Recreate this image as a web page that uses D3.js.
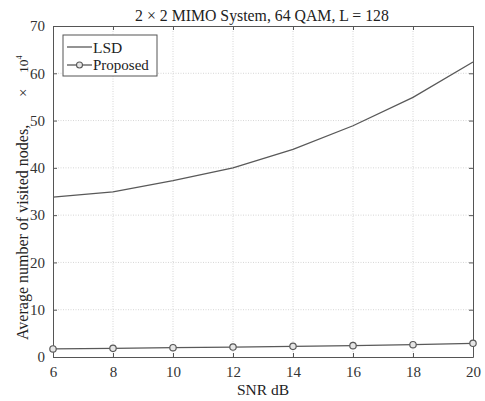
<!DOCTYPE html>
<html>
<head>
<meta charset="utf-8">
<script src="https://cdn.jsdelivr.net/npm/d3@7"></script>
<style>
  html, body { margin: 0; padding: 0; background: #fff; }
  svg { display: block; font-family: "Liberation Serif", "Times New Roman", serif; }
</style>
</head>
<body>
<svg id="chart" width="485" height="401"></svg>
<script>
// SNR points (dB)
const snr = [6, 8, 10, 12, 14, 16, 18, 20];
// Average visited nodes (x 10^4)
const lsd = [33.8, 34.9, 37.3, 40.0, 43.9, 48.9, 54.9, 62.4];
const proposed = [1.7, 1.83, 1.97, 2.1, 2.25, 2.4, 2.6, 2.9];
const xTicks = [6, 8, 10, 12, 14, 16, 18, 20];
const yTicks = [0, 10, 20, 30, 40, 50, 60, 70];

const svg = d3.select("#chart");
const m = { left: 53, right: 473, top: 26, bottom: 357 };
const x = d3.scaleLinear().domain([6, 20]).range([m.left, m.right]);
const y = d3.scaleLinear().domain([0, 70]).range([m.bottom, m.top]);
const axisCol = "#555";
const lineCol = "#595959";
const serif = "Liberation Serif";

// grid
const grid = svg.append("g").attr("stroke", "#d6d6d6").attr("stroke-width", 1)
  .attr("stroke-dasharray", "1,1.5");
xTicks.slice(1, -1).forEach(t => grid.append("line")
  .attr("x1", x(t)).attr("x2", x(t)).attr("y1", m.top).attr("y2", m.bottom));
yTicks.slice(1, -1).forEach(t => grid.append("line")
  .attr("x1", m.left).attr("x2", m.right).attr("y1", y(t)).attr("y2", y(t)));

// axes with inward ticks on all four sides
const fs = 15;
const axBottom = svg.append("g").attr("transform", `translate(0,${m.bottom})`)
  .call(d3.axisBottom(x).tickValues(xTicks).tickSizeInner(-4).tickSizeOuter(0).tickPadding(9));
const axTop = svg.append("g").attr("transform", `translate(0,${m.top})`)
  .call(d3.axisTop(x).tickValues(xTicks).tickSizeInner(-4).tickSizeOuter(0).tickFormat(""));
const axLeft = svg.append("g").attr("transform", `translate(${m.left},0)`)
  .call(d3.axisLeft(y).tickValues(yTicks).tickSizeInner(-4).tickSizeOuter(0).tickPadding(8));
const axRight = svg.append("g").attr("transform", `translate(${m.right},0)`)
  .call(d3.axisRight(y).tickValues(yTicks).tickSizeInner(-4).tickSizeOuter(0).tickFormat(""));
[axBottom, axTop, axLeft, axRight].forEach(g => {
  g.select(".domain").attr("stroke", axisCol);
  g.selectAll(".tick line").attr("stroke", axisCol);
  g.selectAll("text").attr("font-family", serif).attr("font-size", fs).attr("fill", "#333");
});

// series
const line = d3.line().x((d, i) => x(snr[i])).y(d => y(d));
svg.append("path").datum(lsd).attr("d", line).attr("fill", "none")
  .attr("stroke", lineCol).attr("stroke-width", 1.3);
svg.append("path").datum(proposed).attr("d", line).attr("fill", "none")
  .attr("stroke", lineCol).attr("stroke-width", 1.3);
svg.append("g").selectAll("circle").data(proposed).join("circle")
  .attr("cx", (d, i) => x(snr[i])).attr("cy", d => y(d)).attr("r", 3.2)
  .attr("fill", "#e6e6e6").attr("stroke", lineCol).attr("stroke-width", 1.2);

// legend
const lg = svg.append("g").attr("font-family", serif);
lg.append("rect").attr("x", 63).attr("y", 35).attr("width", 94).attr("height", 41)
  .attr("fill", "#fff").attr("stroke", axisCol).attr("stroke-width", 1);
lg.append("line").attr("x1", 67).attr("x2", 92).attr("y1", 47).attr("y2", 47)
  .attr("stroke", lineCol).attr("stroke-width", 1.3);
lg.append("line").attr("x1", 67).attr("x2", 92).attr("y1", 65).attr("y2", 65)
  .attr("stroke", lineCol).attr("stroke-width", 1.3);
lg.append("circle").attr("cx", 79.5).attr("cy", 65).attr("r", 3)
  .attr("fill", "#e6e6e6").attr("stroke", lineCol).attr("stroke-width", 1.1);
lg.append("text").attr("x", 93).attr("y", 52.5).attr("font-size", 15.5).attr("fill", "#222").text("LSD");
lg.append("text").attr("x", 93).attr("y", 70).attr("font-size", 15).attr("fill", "#222").text("Proposed");

// title and axis labels
svg.append("text").attr("x", 262).attr("y", 21).attr("text-anchor", "middle")
  .attr("font-family", serif).attr("font-size", 15.8).attr("fill", "#222")
  .attr("xml:space", "preserve").text("2 × 2 MIMO System, 64 QAM, L = 128");
svg.append("text").attr("x", 263).attr("y", 395).attr("text-anchor", "middle")
  .attr("font-family", serif).attr("font-size", 15.5).attr("fill", "#222").text("SNR dB");

// y label with the power-of-ten multiplier further up the same line
const ylab = svg.append("g").attr("font-family", serif).attr("fill", "#222");
ylab.append("text").attr("transform", "translate(28,340) rotate(-90)")
  .attr("font-size", 16).text("Average number of visited nodes,");
ylab.append("text").attr("transform", "translate(28,97) rotate(-90)")
  .attr("font-size", 15).text("×");
const pw = ylab.append("text").attr("transform", "translate(28,73) rotate(-90)")
  .attr("font-size", 13.5);
pw.append("tspan").text("10");
pw.append("tspan").attr("dy", -6).attr("font-size", 8).text("4");
</script>
</body>
</html>
